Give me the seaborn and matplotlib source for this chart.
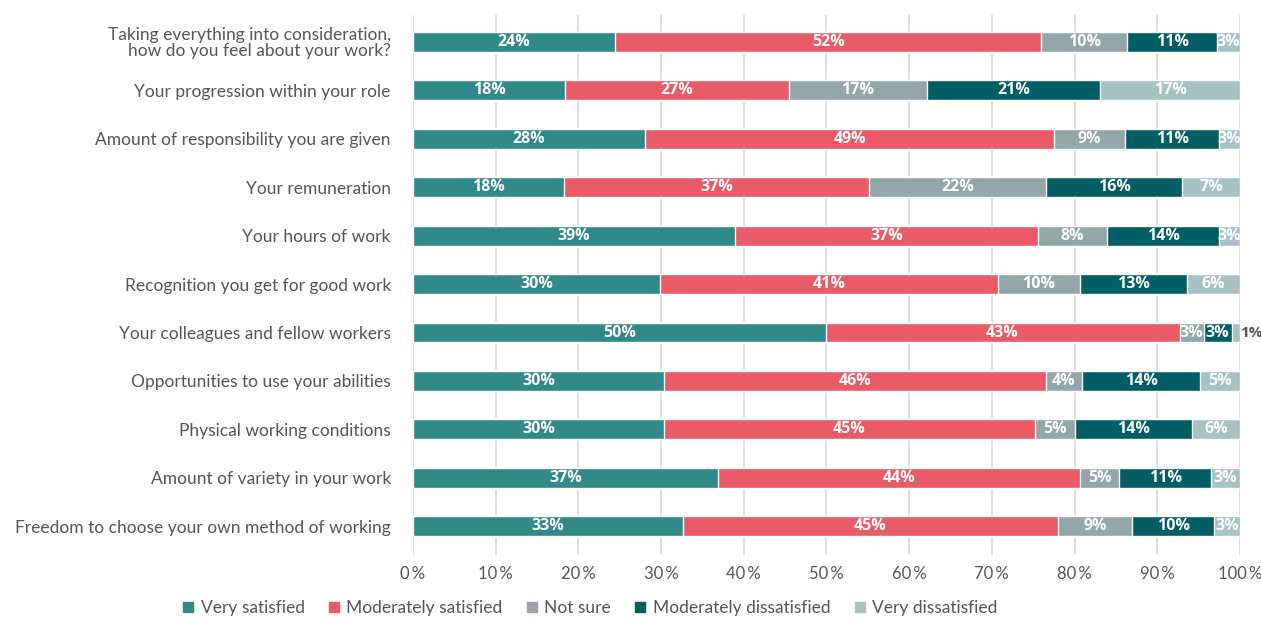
import matplotlib
matplotlib.use("Agg")
import matplotlib.pyplot as plt
import seaborn as sns
import numpy as np
import pandas as pd
from matplotlib.lines import Line2D

categories = [
    "Taking everything into consideration,\nhow do you feel about your work?",
    "Your progression within your role",
    "Amount of responsibility you are given",
    "Your remuneration",
    "Your hours of work",
    "Recognition you get for good work",
    "Your colleagues and fellow workers",
    "Opportunities to use your abilities",
    "Physical working conditions",
    "Amount of variety in your work",
    "Freedom to choose your own method of working",
]
series_names = ["Very satisfied", "Moderately satisfied", "Not sure",
                "Moderately dissatisfied", "Very dissatisfied"]

very_satisfied = [24.4, 18.4, 28.1, 18.3, 38.9, 29.9, 49.9, 30.4, 30.4, 36.9, 32.6]
moderately_satisfied = [51.6, 27.1, 49.4, 36.8, 36.7, 40.8, 42.8, 46.1, 44.8, 43.8, 45.4]
not_sure = [10.4, 16.6, 8.6, 21.5, 8.3, 10.0, 2.9, 4.4, 4.8, 4.7, 9.0]
moderately_dissatisfied = [10.8, 21.0, 11.4, 16.4, 13.6, 12.9, 3.4, 14.3, 14.2, 11.1, 9.9]
very_dissatisfied = [2.8, 16.9, 2.5, 7.0, 2.5, 6.4, 1.0, 4.8, 5.8, 3.5, 3.1]

labels_vs = ["24%", "18%", "28%", "18%", "39%", "30%", "50%", "30%", "30%", "37%", "33%"]
labels_ms = ["52%", "27%", "49%", "37%", "37%", "41%", "43%", "46%", "45%", "44%", "45%"]
labels_ns = ["10%", "17%", "9%", "22%", "8%", "10%", "3%", "4%", "5%", "5%", "9%"]
labels_md = ["11%", "21%", "11%", "16%", "14%", "13%", "3%", "14%", "14%", "11%", "10%"]
labels_vd = ["3%", "17%", "3%", "7%", "3%", "6%", "1%", "5%", "6%", "3%", "3%"]

tick_values = [0, 10, 20, 30, 40, 50, 60, 70, 80, 90, 100]
tick_labels = ["0\u2009%", "10\u2009%", "20\u2009%", "30\u2009%", "40\u2009%", "50\u2009%",
               "60\u2009%", "70\u2009%", "80\u2009%", "90\u2009%", "100\u2009%"]

colors = ["#2f8a88", "#e95b66", "#93a7ab", "#005e64", "#a7c2c4"]

sns.set_theme(style="white")
plt.rcParams["font.family"] = ["Lato", "DejaVu Sans"]

all_series = [very_satisfied, moderately_satisfied, not_sure,
              moderately_dissatisfied, very_dissatisfied]
all_labels = [labels_vs, labels_ms, labels_ns, labels_md, labels_vd]

cum = np.zeros(len(categories))
cums = []
for s in all_series:
    cum = cum + np.array(s)
    cums.append(cum.copy())

fig = plt.figure(figsize=(12.61, 6.19), dpi=100)
ax = fig.add_axes([0.3275, 0.103, 0.6558, 0.873])

for x in tick_values:
    ax.axvline(x, color="#d9d9d9", lw=1.2, zorder=0)

# draw cumulative bars from the largest to the smallest
for i in range(len(all_series) - 1, -1, -1):
    d = pd.DataFrame({"category": categories, "value": cums[i]})
    sns.barplot(data=d, y="category", x="value", color=colors[i], ax=ax,
                orient="h", width=0.41, saturation=1, zorder=2)

for i, (s, labs) in enumerate(zip(all_series, all_labels)):
    for j, (v, lab) in enumerate(zip(s, labs)):
        center = cums[i][j] - v / 2
        if v < 1.5:
            ax.text(cums[i][j] + 0.05, j, lab, ha="left", va="center",
                    color="#555555", fontsize=11, fontweight="bold",
                    family=["Open Sans", "DejaVu Sans"], zorder=5, clip_on=False)
        else:
            ax.text(center, j, lab, ha="center", va="center", color="white",
                    fontsize=11.5, fontweight="bold",
                    family=["Open Sans", "DejaVu Sans"], zorder=5)

ax.set_xlim(0, 100)
ax.set_ylim(10.6, -0.56)
ax.set_xticks(tick_values)
ax.set_xticklabels(tick_labels, color="#555555", fontsize=12)
ax.tick_params(axis="x", length=0, pad=8)
ax.tick_params(axis="y", length=0, pad=16)
for lab in ax.get_yticklabels():
    lab.set_color("#555555")
    lab.set_fontsize(12.5)
    lab.set_linespacing(0.95)
ax.set_xlabel("")
ax.set_ylabel("")
for sp in ax.spines.values():
    sp.set_visible(False)

handles = [Line2D([0], [0], marker="s", color="none", markerfacecolor=c,
                  markeredgecolor=c, markersize=7) for c in colors]
fig.legend(handles, series_names, loc="center", bbox_to_anchor=(0.466, 0.017),
           ncol=5, frameon=False, fontsize=12.5, handletextpad=0.1,
           handlelength=1.2, columnspacing=1.1, labelcolor="#555555")

fig.savefig("out.png", dpi=100)
